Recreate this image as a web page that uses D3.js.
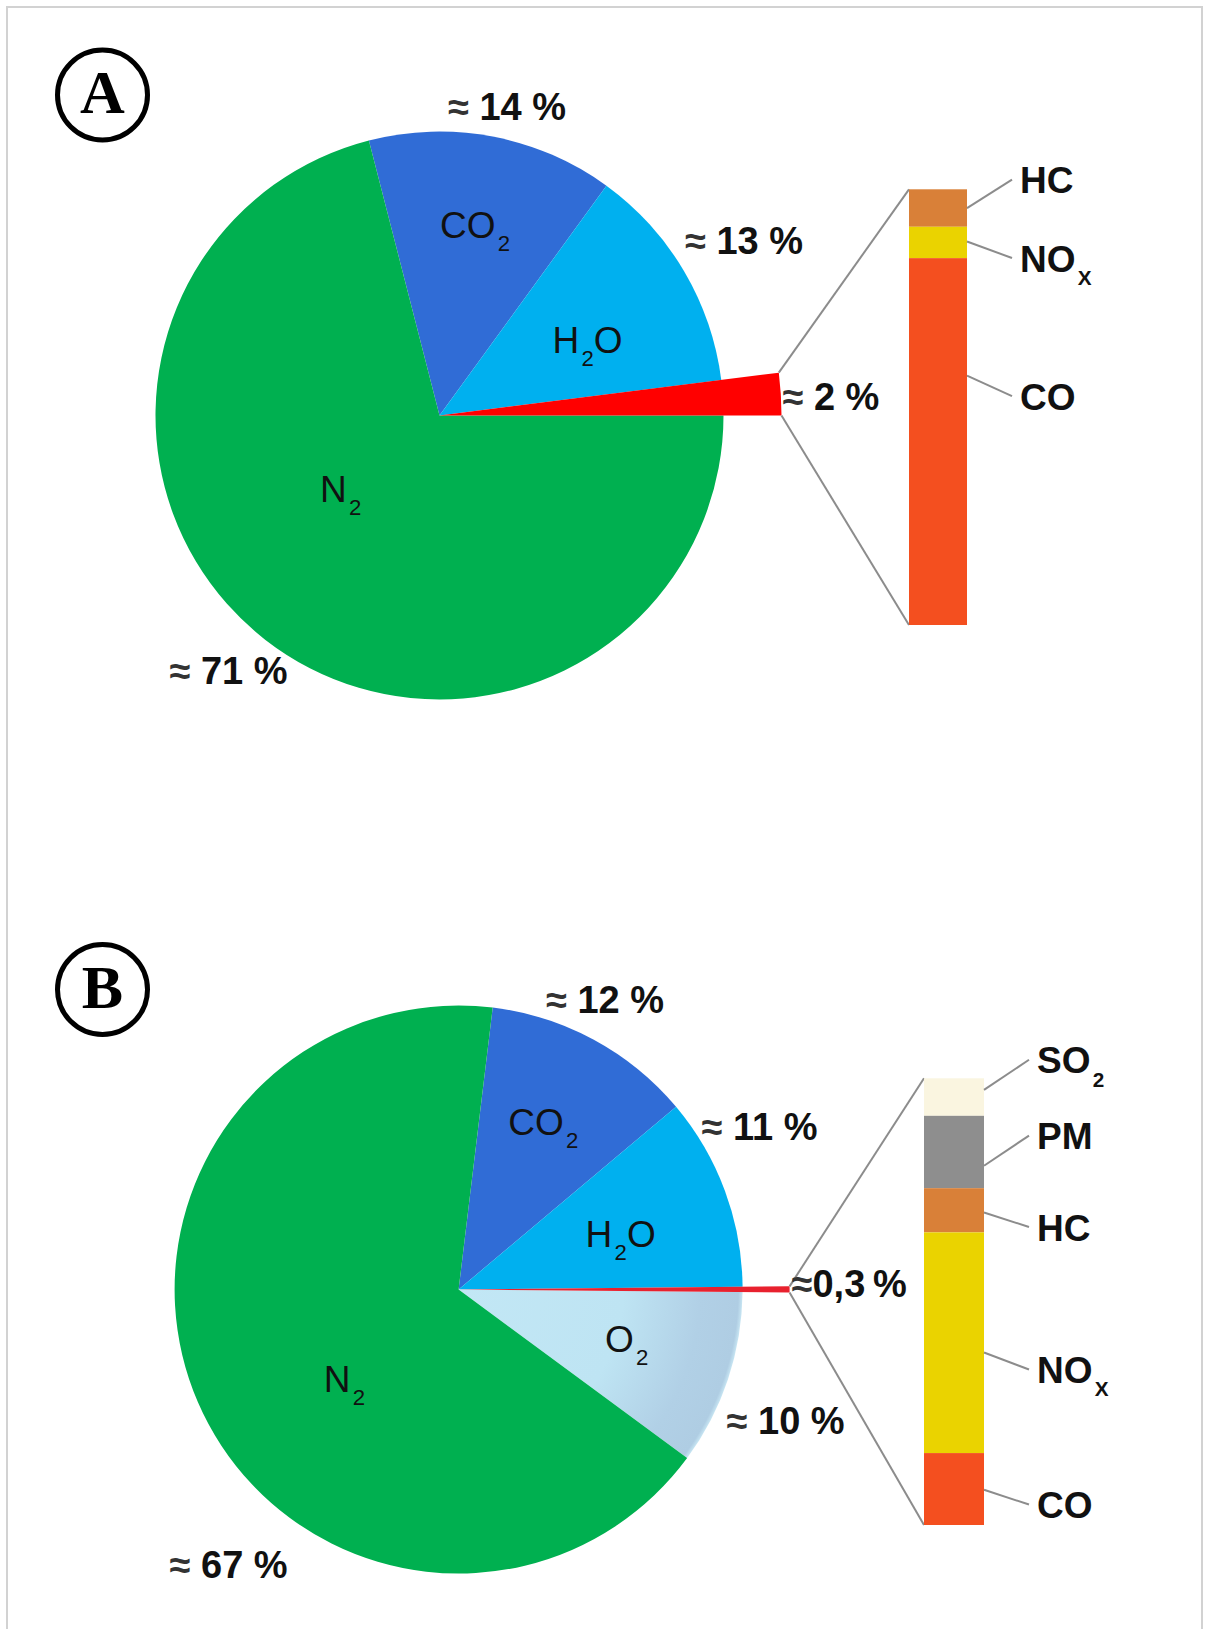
<!DOCTYPE html>
<html>
<head>
<meta charset="utf-8">
<script src="https://cdn.jsdelivr.net/npm/d3@7"></script>
<style>
  html, body { margin: 0; padding: 0; background: #fff; }
  svg { display: block; }
  text { font-family: "Liberation Sans", Arial, Helvetica, sans-serif; fill: #111; }
</style>
</head>
<body>
<svg id="chart" width="1213" height="1629"></svg>
<script>
// Exhaust gas composition: (A) petrol engine, (B) diesel engine.
// "_" in a name marks the following character as a subscript.

// Panel A – main components (%)
const pieACategories = ["CO_2", "H_2O", "pollutants", "N_2"];
const pieAValues = [14, 13, 2, 71];
// Panel A – breakdown of the pollutant share (% of pollutants)
const barACategories = ["HC", "NO_X", "CO"];
const barAValues = [8.6, 7.2, 84.2];

// Panel B – main components (%)
const pieBCategories = ["CO_2", "H_2O", "pollutants", "O_2", "N_2"];
const pieBValues = [12, 11, 0.3, 10, 67];
// Panel B – breakdown of the pollutant share (% of pollutants)
const barBCategories = ["SO_2", "PM", "HC", "NO_X", "CO"];
const barBValues = [8.4, 16.2, 9.9, 49.4, 16.1];

const panelLetters = ["A", "B"];

const colors = {
  "CO_2": "#306cd6",
  "H_2O": "#00b0ef",
  "N_2": "#00b050",
  "O_2": "url(#o2grad)",
  "HC": "#d98038",
  "NO_X": "#ead300",
  "CO": "#f44f1f",
  "SO_2": "#faf5e0",
  "PM": "#8e8e8e"
};

// Value label text, German decimal comma
function pctLabel(v) {
  return v < 1 ? "≈" + String(v).replace(".", ",") + "\u2009%" : "≈ " + v + " %";
}

const svg = d3.select("#chart");

// outer frame
svg.append("rect")
  .attr("x", 7).attr("y", 7).attr("width", 1195).attr("height", 1650)
  .attr("fill", "none").attr("stroke", "#d2d2d2").attr("stroke-width", 2);

const defs = svg.append("defs");

// O2 slice: light in the middle, greyer towards the rim (coordinates local to the pie)
const o2grad = defs.append("radialGradient")
  .attr("id", "o2grad").attr("gradientUnits", "userSpaceOnUse")
  .attr("cx", 0).attr("cy", 0).attr("r", 284);
o2grad.append("stop").attr("offset", 0).attr("stop-color", "#c2e7f5");
o2grad.append("stop").attr("offset", 0.58).attr("stop-color", "#bee4f3");
o2grad.append("stop").attr("offset", 0.85).attr("stop-color", "#b1d0e6");
o2grad.append("stop").attr("offset", 0.985).attr("stop-color", "#afcde3");
o2grad.append("stop").attr("offset", 1).attr("stop-color", "#c8e6f3");

// Writes a formula such as "H_2O" into a text element with subscripts
function formula(textSel, name, size, subScale) {
  const parts = [];
  for (let i = 0; i < name.length; i++) {
    if (name[i] === "_") { parts.push({ t: name[i + 1], sub: true }); i++; }
    else if (parts.length && !parts[parts.length - 1].sub) parts[parts.length - 1].t += name[i];
    else parts.push({ t: name[i], sub: false });
  }
  let prevSub = false;
  const shift = size * 0.36;
  parts.forEach(p => {
    const ts = textSel.append("tspan").text(p.t);
    if (p.sub) {
      ts.attr("font-size", size * subScale).attr("dy", shift).attr("dx", size * 0.06);
    } else if (prevSub) {
      ts.attr("dy", -shift);
    }
    prevSub = p.sub;
  });
}

function drawPanel(cfg) {
  const g = svg.append("g");
  const { cx, cy, r } = cfg;

  // panel badge
  g.append("circle")
    .attr("cx", cfg.badge[0]).attr("cy", cfg.badge[1]).attr("r", 45)
    .attr("fill", "none").attr("stroke", "#000").attr("stroke-width", 5);
  g.append("text")
    .attr("x", cfg.badge[0]).attr("y", cfg.badge[1] + 18)
    .attr("text-anchor", "middle")
    .style("font-family", "'Liberation Serif', 'Times New Roman', serif")
    .attr("font-weight", "bold").attr("font-size", 62)
    .style("fill", "#000")
    .text(cfg.letter);

  // pie
  const data = cfg.categories.map((c, i) => ({ cat: c, value: cfg.values[i] }));
  const start = cfg.startDeg * Math.PI / 180;
  const pie = d3.pie().value(d => d.value).sort(null)
    .startAngle(start).endAngle(start + 2 * Math.PI);
  const arcs = pie(data);
  const arcMain = d3.arc().innerRadius(0).outerRadius(r);
  const arcMinor = d3.arc().innerRadius(0).outerRadius(cfg.rMinor);
  const minor = arcs.find(a => a.data.cat === "pollutants");

  const pg = g.append("g").attr("transform", `translate(${cx},${cy})`);

  pg.selectAll("path.slice")
    .data(arcs.filter(a => a !== minor))
    .join("path")
    .attr("class", "slice")
    .attr("d", arcMain)
    .attr("fill", d => colors[d.data.cat]);

  // pollutant wedge, pulled outwards
  pg.append("path")
    .attr("d", arcMinor(minor))
    .attr("fill", cfg.minorColor);

  // stacked breakdown bar
  const total = d3.sum(cfg.barValues);
  const y = d3.scaleLinear().domain([0, total]).range([cfg.bar.top, cfg.bar.bottom]);
  let acc = 0;
  const segs = cfg.barCategories.map((c, i) => {
    const s = { cat: c, y0: acc, y1: acc + cfg.barValues[i] };
    acc += cfg.barValues[i];
    return s;
  });
  const barRight = cfg.bar.x + cfg.bar.w;

  // connector lines from wedge tip to bar
  const tip = a => [cx + cfg.rMinor * Math.sin(a), cy - cfg.rMinor * Math.cos(a)];
  const tTop = tip(minor.startAngle), tBot = tip(minor.endAngle);
  g.append("line")
    .attr("x1", tTop[0]).attr("y1", tTop[1])
    .attr("x2", cfg.bar.x).attr("y2", y(0))
    .attr("stroke", "#8c8c8c").attr("stroke-width", 2);
  g.append("line")
    .attr("x1", tBot[0]).attr("y1", tBot[1])
    .attr("x2", cfg.bar.x).attr("y2", y(total))
    .attr("stroke", "#8c8c8c").attr("stroke-width", 2);

  g.selectAll("rect.seg").data(segs).join("rect")
    .attr("class", "seg")
    .attr("x", cfg.bar.x).attr("width", cfg.bar.w)
    .attr("y", d => y(d.y0)).attr("height", d => y(d.y1) - y(d.y0))
    .attr("fill", d => colors[d.cat]);

  // bar labels with leader lines
  segs.forEach((s, i) => {
    const L = cfg.barLabelLayout[i];
    const ay = y(s.y0) + (y(s.y1) - y(s.y0)) * L.frac;
    const base = ay + L.dy;
    g.append("line")
      .attr("x1", barRight).attr("y1", ay)
      .attr("x2", barRight + 45).attr("y2", base - 13.5)
      .attr("stroke", "#8c8c8c").attr("stroke-width", 2);
    const t = g.append("text")
      .attr("x", barRight + 53).attr("y", base)
      .attr("font-weight", "bold").attr("font-size", 37);
    formula(t, s.cat, 37, 0.56);
  });

  // slice names inside the pie
  arcs.forEach(a => {
    const pos = cfg.nameLayout[a.data.cat];
    if (!pos) return;
    const t = g.append("text")
      .attr("x", cx + pos[0]).attr("y", cy + pos[1])
      .attr("font-size", 37);
    formula(t, a.data.cat, 37, 0.6);
  });

  // value labels around the pie
  arcs.forEach(a => {
    const pos = cfg.pctLayout[a.data.cat];
    const t = g.append("text")
      .attr("x", cx + pos[0]).attr("y", cy + pos[1])
      .attr("font-weight", "bold").attr("font-size", 38);
    const txt = pctLabel(a.data.value);
    t.append("tspan").style("fill", "#333").text(txt.slice(0, 1));
    t.append("tspan").text(txt.slice(1));
  });
}

drawPanel({
  letter: panelLetters[0],
  badge: [102.5, 95],
  cx: 439.5, cy: 415.5, r: 284, rMinor: 342, startDeg: -14.4,
  categories: pieACategories, values: pieAValues,
  minorColor: "#ff0000",
  barCategories: barACategories, barValues: barAValues,
  bar: { x: 909, w: 58, top: 189.3, bottom: 625 },
  barLabelLayout: [{ frac: 0.5, dy: -15 }, { frac: 0.47, dy: 30 }, { frac: 0.32, dy: 34 }],
  nameLayout: { "CO_2": [0.5, -177.5], "H_2O": [113, -62.5], "N_2": [-119.5, 86] },
  pctLayout: { "CO_2": [8.5, -295.5], "H_2O": [245.5, -161.5], "pollutants": [343, -5.5], "N_2": [-270, 268] }
});

drawPanel({
  letter: panelLetters[1],
  badge: [102.5, 989.5],
  cx: 458.6, cy: 1289.5, r: 284, rMinor: 331, startDeg: 6.9,
  categories: pieBCategories, values: pieBValues,
  minorColor: "#e8212e",
  barCategories: barBCategories, barValues: barBValues,
  bar: { x: 924, w: 60, top: 1078.3, bottom: 1525 },
  barLabelLayout: [{ frac: 0.31, dy: -16.7 }, { frac: 0.69, dy: -16.7 }, { frac: 0.55, dy: 28 },
                   { frac: 0.544, dy: 30.6 }, { frac: 0.51, dy: 28.3 }],
  nameLayout: { "CO_2": [49.7, -154.5], "H_2O": [127, -42.8], "O_2": [146.4, 62.2], "N_2": [-134.9, 102.2] },
  pctLayout: { "CO_2": [87.4, -276.2], "H_2O": [243, -150], "pollutants": [333, 7], "O_2": [268, 144.5], "N_2": [-289, 288.8] }
});
</script>
</body>
</html>
